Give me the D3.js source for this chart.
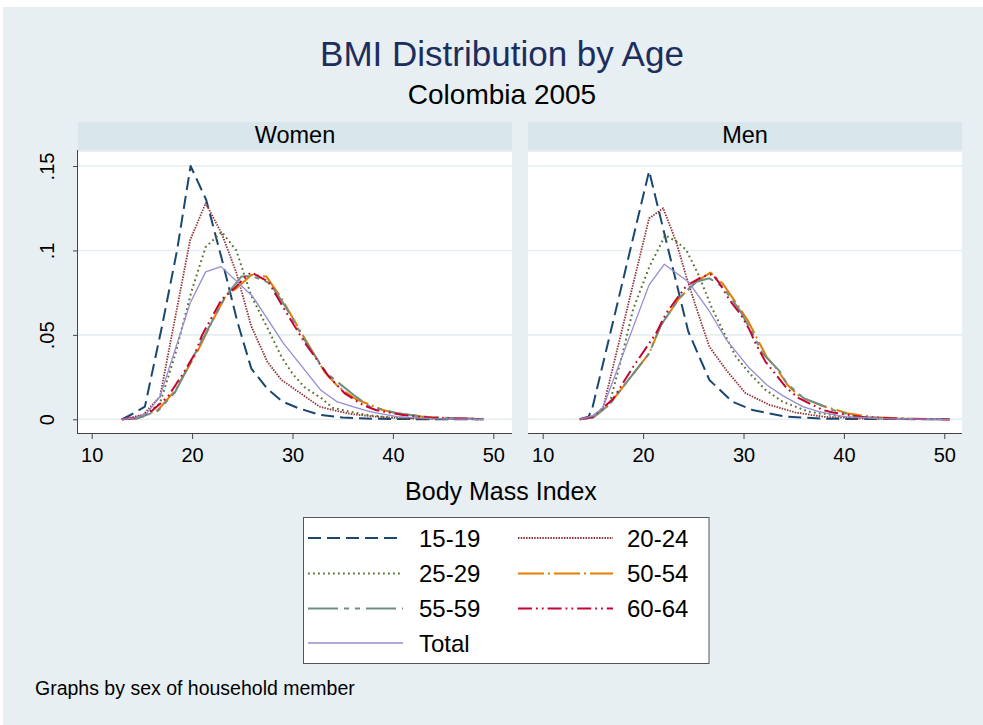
<!DOCTYPE html>
<html><head><meta charset="utf-8">
<script src="https://cdn.jsdelivr.net/npm/d3@7"></script>
<style>body{margin:0;background:#fff}svg{display:block}text{font-family:"Liberation Sans",Arial,Helvetica,sans-serif}</style>
</head><body><svg id="c" width="983" height="725"></svg>
<script>
// ---------------- data ----------------
const panelNames = ["Women", "Men"];
const seriesNames = ["15-19", "20-24", "25-29", "50-54", "55-59", "60-64", "Total"];
const xTickValues = [10, 20, 30, 40, 50];
const yTickValues = [0, 0.05, 0.1, 0.15];
const yTickLabels = ["0", ".05", ".1", ".15"];

// kernel density vertices: [BMI, density]
const women_15_19 = [[13,0],[14,0.003],[15.3,0.0075],[17,0.055],[18.5,0.1],[19.85,0.15],[21.4,0.13],[23,0.094],[24.5,0.058],[25.9,0.03],[27.5,0.018],[29,0.0105],[30.5,0.0068],[32.7,0.0026],[35,0.001],[38,0.0003],[42,0.0001],[49,0]];
const women_20_24 = [[13,0],[15.1,0.0026],[16.8,0.0134],[19.8,0.106],[21.35,0.128],[22.95,0.11],[24.4,0.087],[25.9,0.055],[27.5,0.034],[28.9,0.0233],[30.9,0.015],[32.7,0.0075],[34.5,0.0048],[36,0.003],[38,0.0017],[40,0.0009],[43,0.0003],[49,0]];
const women_25_29 = [[13,0],[15.1,0.0016],[16.8,0.0095],[18.3,0.038],[19.9,0.075],[21.35,0.102],[22.95,0.111],[24.4,0.1],[25.9,0.073],[27.6,0.053],[28.9,0.037],[30,0.027],[31.2,0.019],[32.9,0.0124],[34,0.0068],[35.7,0.0045],[37.5,0.0025],[40,0.001],[44,0.0003],[49,0]];
const women_50_54 = [[13,0],[14.5,0.0005],[16.6,0.0055],[18.3,0.017],[20.6,0.041],[22,0.058],[23.35,0.073],[24.5,0.078],[25.9,0.0855],[27.4,0.0845],[28.9,0.0717],[30.9,0.051],[31.9,0.041],[33.2,0.028],[34.6,0.019],[36.3,0.012],[39,0.0055],[40.4,0.0036],[43,0.0015],[46,0.0006],[49,0.0002]];
const women_55_59 = [[13,0],[14.5,0.0005],[16.6,0.005],[18.3,0.016],[21,0.047],[23.35,0.073],[24.9,0.0845],[25.9,0.085],[27.75,0.0806],[29.3,0.0667],[31.2,0.047],[33.4,0.0273],[36.1,0.0144],[37.7,0.0075],[40.4,0.0036],[43.7,0.0012],[47,0.0005],[49,0.0003]];
const women_60_64 = [[13,0],[14.5,0.001],[16,0.005],[17.6,0.0134],[19.3,0.029],[20.3,0.039],[21,0.05],[22.95,0.071],[24.3,0.078],[25.3,0.0845],[25.9,0.087],[27.6,0.0815],[29.3,0.064],[31.2,0.0456],[33.6,0.0255],[35.2,0.0154],[37,0.0085],[38.3,0.0055],[41,0.0025],[44,0.0008],[49,0.0001]];
const women_total = [[13,0],[14.5,0.001],[15.5,0.0036],[16.8,0.0134],[19.8,0.0687],[21.35,0.0873],[22.88,0.0904],[26,0.073],[29.1,0.045],[32.8,0.0174],[34.4,0.0105],[36,0.0075],[37.7,0.0045],[40.4,0.0016],[44,0.0004],[49,0]];

const men_15_19 = [[13.7,0],[14.55,0.0016],[14.9,0.0055],[20.6,0.147],[24.5,0.052],[26.6,0.0233],[28.9,0.0104],[30.9,0.0055],[34.2,0.0016],[38,0.0003],[50.5,0]];
const men_20_24 = [[13.7,0],[15,0.002],[16,0.0065],[20.6,0.119],[22,0.125],[23.3,0.105],[24.3,0.0845],[25.3,0.066],[26.6,0.043],[28.3,0.029],[30.2,0.0155],[32.6,0.0085],[35.2,0.004],[38,0.0015],[42,0.0004],[50.5,0]];
const men_25_29 = [[13.7,0],[15,0.0015],[16.63,0.0085],[18,0.04],[19,0.065],[20.6,0.09],[22.2,0.109],[23.4,0.105],[24.3,0.1003],[25.6,0.0845],[26.8,0.0667],[27.9,0.053],[29.25,0.037],[30.6,0.0273],[32.2,0.0174],[33.9,0.0104],[36.5,0.0045],[40,0.0015],[44,0.0004],[50.5,0]];
const men_50_54 = [[13.7,0],[15,0.001],[16.6,0.0085],[20.6,0.039],[21.8,0.056],[23.6,0.0717],[25.3,0.0815],[26.7,0.0869],[27.9,0.0806],[29.4,0.0677],[30.4,0.0588],[31.6,0.045],[32.3,0.037],[33.4,0.0292],[34.4,0.0203],[35.6,0.0134],[37.6,0.0085],[40.3,0.0036],[43,0.0012],[46,0.0004],[50.5,0]];
const men_55_59 = [[13.7,0],[15,0.001],[16.6,0.0085],[20.6,0.039],[21.8,0.056],[23.6,0.0717],[25.3,0.0815],[26.6,0.0835],[27.9,0.0786],[29.6,0.0648],[30.9,0.051],[31.9,0.039],[33.6,0.0285],[34.3,0.0213],[36,0.0124],[37.3,0.0095],[38.9,0.0055],[41.25,0.0015],[45,0.0004],[50.5,0]];
const men_60_64 = [[13.7,0],[15,0.0015],[17,0.012],[19,0.031],[21.3,0.051],[22.3,0.0628],[24.3,0.079],[25.9,0.0845],[26.9,0.086],[27.6,0.0806],[28.6,0.0707],[29.75,0.0618],[30.6,0.053],[31.2,0.045],[32.2,0.034],[34.3,0.0185],[35.5,0.0125],[37.9,0.0055],[38.9,0.004],[42,0.0012],[46,0.0003],[50.5,0]];
const men_total = [[13.7,0],[15,0.002],[16,0.007],[20.6,0.0796],[22.1,0.0918],[24.5,0.0815],[26.6,0.064],[28.3,0.047],[30.6,0.0302],[32.3,0.0205],[33.9,0.014],[35.9,0.0075],[37.5,0.0045],[40,0.0016],[44,0.0004],[50.5,0]];

const panelData = {
  Women: [women_15_19, women_20_24, women_25_29, women_50_54, women_55_59, women_60_64, women_total],
  Men:   [men_15_19, men_20_24, men_25_29, men_50_54, men_55_59, men_60_64, men_total]
};

// ---------------- styles ----------------
const colors = ["#1a476f", "#90353b", "#55752f", "#e37e00", "#6e8e84", "#c10534", "#938dd2"];
const dashes = ["13,6", "1.5,1.2", "1.8,3.2", "26,4,2,4", "30,6,5,6,5,6", "14,4,1.8,4,1.8,4", null];
const widths = [2, 1.8, 2, 2, 2, 2, 1.3];
const FONT = '"Liberation Sans", Arial, Helvetica, sans-serif';

const svg = d3.select("#c");
const W = 983, H = 725;
svg.append("rect").attr("x", 0).attr("y", 0).attr("width", W).attr("height", H).attr("fill", "#ffffff");
svg.append("rect").attr("x", 3).attr("y", 7).attr("width", W - 3).attr("height", H - 7).attr("fill", "#e8eff2");

// titles
svg.append("text").attr("x", 502).attr("y", 66).attr("text-anchor", "middle")
  .attr("font-size", 35).attr("fill", "#1c2e5e").text("BMI Distribution by Age");
svg.append("text").attr("x", 502).attr("y", 104).attr("text-anchor", "middle")
  .attr("font-size", 28).attr("fill", "#000").text("Colombia 2005");

const panelGeom = {
  Women: {left: 78, right: 512, x10: 91.7, x50: 493.3},
  Men:   {left: 528, right: 962, x10: 542.7, x50: 944.3}
};
const stripTop = 122, stripBottom = 150, plotTop = 152, plotBottom = 434;
const y = d3.scaleLinear().domain([0, 0.15]).range([419.3, 166]);

panelNames.forEach((p, pi) => {
  const g = panelGeom[p];
  const x = d3.scaleLinear().domain([10, 50]).range([g.x10, g.x50]);
  // strip
  svg.append("rect").attr("x", g.left).attr("y", stripTop).attr("width", g.right - g.left)
    .attr("height", stripBottom - stripTop).attr("fill", "#d9e6eb");
  svg.append("text").attr("x", (g.left + g.right) / 2).attr("y", 143).attr("text-anchor", "middle")
    .attr("font-size", 23.5).attr("fill", "#000").text(p);
  // plot region
  svg.append("rect").attr("x", g.left).attr("y", plotTop).attr("width", g.right - g.left)
    .attr("height", plotBottom - plotTop).attr("fill", "#ffffff");
  // gridlines
  svg.append("g").selectAll("line").data(yTickValues).join("line")
    .attr("x1", g.left).attr("x2", g.right)
    .attr("y1", d => y(d)).attr("y2", d => y(d))
    .attr("stroke", "#e6eef1").attr("stroke-width", 1.6);
  // x axis
  const xa = svg.append("g").attr("transform", `translate(0,${plotBottom})`)
    .call(d3.axisBottom(x).tickValues(xTickValues).tickFormat(d3.format("d")).tickSize(5).tickPadding(9));
  xa.select(".domain").remove();
  xa.selectAll(".tick line").attr("stroke", "#444").attr("stroke-width", 1);
  xa.selectAll(".tick text").attr("font-size", 20).attr("font-family", FONT).attr("fill", "#000");
  svg.append("line").attr("x1", g.left).attr("x2", g.right).attr("y1", plotBottom - 0.5).attr("y2", plotBottom - 0.5)
    .attr("stroke", "#444").attr("stroke-width", 1);
  // y axis only for first panel
  if (pi === 0) {
    const ya = svg.append("g").attr("transform", `translate(${g.left},0)`)
      .call(d3.axisLeft(y).tickValues(yTickValues).tickFormat((d, i) => yTickLabels[i]).tickSize(5).tickPadding(0));
    ya.select(".domain").remove();
    ya.selectAll(".tick line").attr("stroke", "#444");
    ya.selectAll(".tick text").attr("font-size", 20).attr("font-family", FONT).attr("fill", "#000")
      .attr("text-anchor", "middle").attr("transform", "rotate(-90)").attr("x", 0).attr("y", -24).attr("dy", 0);
    svg.append("line").attr("x1", g.left - 0.5).attr("x2", g.left - 0.5).attr("y1", plotTop - 2).attr("y2", plotBottom)
      .attr("stroke", "#444").attr("stroke-width", 1);
  }
  // series
  const line = d3.line().x(d => x(d[0])).y(d => y(d[1]));
  panelData[p].forEach((s, si) => {
    svg.append("path").datum(s).attr("d", line).attr("fill", "none")
      .attr("stroke", colors[si]).attr("stroke-width", widths[si])
      .attr("stroke-dasharray", dashes[si]).attr("stroke-linejoin", "round");
  });
});

// x axis title
svg.append("text").attr("x", 501).attr("y", 500).attr("text-anchor", "middle")
  .attr("font-size", 25).attr("fill", "#000").text("Body Mass Index");

// legend
const lg = svg.append("g");
lg.append("rect").attr("x", 303.5).attr("y", 517.5).attr("width", 405.5).attr("height", 146)
  .attr("fill", "#fff").attr("stroke", "#555").attr("stroke-width", 1);
const rowY = [538, 573.5, 608.5, 643];
seriesNames.forEach((nm, i) => {
  const col = i === 6 ? 0 : i % 2, row = Math.floor(i / 2);
  const x0 = col === 0 ? 308 : 518;
  lg.append("line").attr("x1", x0).attr("x2", x0 + 95).attr("y1", rowY[row]).attr("y2", rowY[row])
    .attr("stroke", colors[i]).attr("stroke-width", widths[i]).attr("stroke-dasharray", dashes[i]);
  lg.append("text").attr("x", col === 0 ? 419 : 627).attr("y", rowY[row] + 8.5)
    .attr("font-size", 24).attr("fill", "#000").text(nm);
});

// note
svg.append("text").attr("x", 35).attr("y", 695).attr("font-size", 19.5).attr("fill", "#000")
  .text("Graphs by sex of household member");
</script></body></html>
